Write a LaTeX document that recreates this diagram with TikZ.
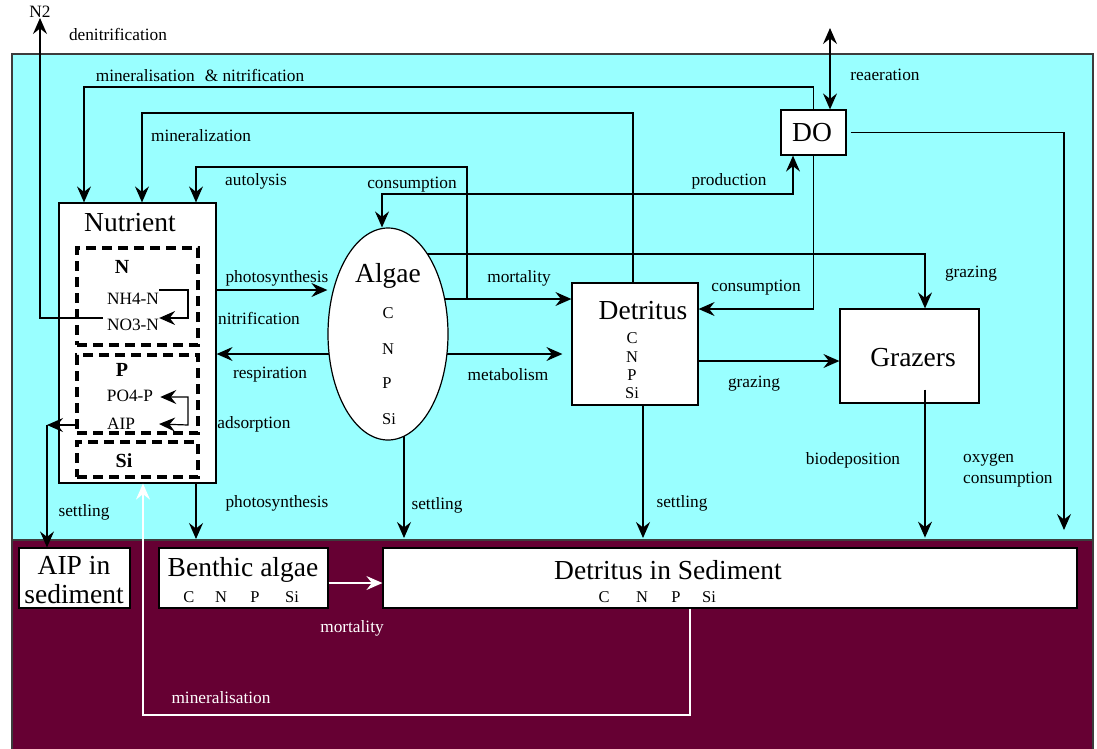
\documentclass[tikz,border=0pt]{standalone}
\usepackage{fontspec}
\setmainfont{Liberation Serif}
\usetikzlibrary{arrows.meta,shapes.geometric,calc}
\pgfdeclarelayer{back}
\pgfdeclarelayer{mid}
\pgfsetlayers{back,mid,main}
\definecolor{water}{RGB}{153,255,255}
\definecolor{sed}{RGB}{102,0,51}
\definecolor{rim}{RGB}{60,60,60}
\begin{document}
\begin{tikzpicture}[x=1pt,y=-1pt,
  conn/.style={line width=1.2pt,-{Stealth[length=16pt,width=14pt,inset=5.5pt]}},
  dconn/.style={line width=1.2pt,{Stealth[length=16pt,width=14pt,inset=5.5pt]}-{Stealth[length=16pt,width=14pt,inset=5.5pt]}},
  wconn/.style={line width=1.2pt,draw=white,-{Stealth[length=16pt,width=14pt,inset=5.5pt]}},
  box/.style={draw=black,fill=white,line width=1.2pt,inner sep=0pt,rectangle},
  dbox/.style={draw=black,line width=3.5pt,dash pattern=on 10pt off 6pt,inner sep=0pt,rectangle},
  lbl/.style={font=\fontsize{17.3}{21}\selectfont,inner sep=0pt},
  wlbl/.style={lbl,text=white},
  big/.style={font=\fontsize{27.5}{29}\selectfont,inner sep=0pt},
  elem/.style={font=\fontsize{16.5}{19}\selectfont,inner sep=0pt},
  bold/.style={font=\fontsize{20}{24}\selectfont\bfseries,inner sep=0pt},
]
\useasboundingbox (0,0) rectangle (1097,748);
\begin{pgfonlayer}{back}
 \filldraw[fill=water,draw=rim,line width=1.2pt] (12,54) rectangle (1093,540);
 \filldraw[fill=sed,draw=rim,line width=1.2pt] (12,540) rectangle (1093,752);
\end{pgfonlayer}

% ---------- boxes ----------
\node[box,minimum width=157pt,minimum height=280pt] (nut) at (137.5,343) {};
\node[dbox,minimum width=121pt,minimum height=97pt] (dN) at (137.5,296.5) {};
\node[dbox,minimum width=121pt,minimum height=78pt] (dP) at (137.5,394) {};
\node[dbox,minimum width=121pt,minimum height=35pt] (dSi) at (137.5,459.5) {};
\node[box,ellipse,minimum width=120pt,minimum height=212pt] (algae) at (388,334) {};
\node[box,minimum width=126pt,minimum height=122pt] (detr) at (635,344) {};
\node[box,minimum width=139pt,minimum height=94pt] (graz) at (909.5,356) {};
\node[box,minimum width=65pt,minimum height=45pt] (dox) at (813.5,132.5) {};
\node[box,minimum width=111pt,minimum height=60pt] (aipsed) at (74.5,578) {};
\node[box,minimum width=169pt,minimum height=60pt] (benth) at (243.5,578) {};
\node[box,minimum width=694pt,minimum height=60pt] (detsed) at (730,578) {};

% ---------- texts in boxes ----------
\node[big] (tNut) at (130,223) {Nutrient};
\node[bold] (tN) at (122,267) {N};
\node[lbl] (tNH4) at (133,299) {NH4-N};
\node[lbl] (tNO3) at (133,325) {NO3-N};
\node[bold] (tP) at (122,370) {P};
\node[lbl] (tPO4) at (130,396) {PO4-P};
\node[lbl] (tAIP) at (121,424) {AIP};
\node[bold] (tSi) at (124,461) {Si};
\node[big] (tAlg) at (388,276) {Algae};
\node[elem] (aC) at (388,313) {C};
\node[elem] (aN) at (388,349) {N};
\node[elem] (aP) at (387,383) {P};
\node[elem] (aSi) at (389,419) {Si};
\node[big] (tDet) at (643,311) {Detritus};
\node[elem] (dC) at (632,338) {C};
\node[elem] (dNn) at (632,357) {N};
\node[elem] (dPp) at (632,375) {P};
\node[elem] (dSii) at (632,393) {Si};
\node[big] (tGraz) at (913,358) {Grazers};
\node[big] (tDO) at (812,133) {DO};
\node[big,align=center] (tAIPs) at (74,580) {AIP in\\sediment};
\node[big] (tBen) at (243,570) {Benthic\hspace{7pt}algae};
\node[elem] (bC) at (189,597) {C};
\node[elem] (bN) at (221,597) {N};
\node[elem] (bP) at (255,597) {P};
\node[elem] (bSi) at (292,597) {Si};
\node[big] (tDS) at (668,570) {Detritus in Sediment};
\node[elem] (sC) at (604,597) {C};
\node[elem] (sN) at (642,597) {N};
\node[elem] (sP) at (676,597) {P};
\node[elem] (sSi) at (709,597) {Si};

% ---------- connectors hidden under nodes ----------
\coordinate (mj) at (467,299);
\coordinate (metEnd) at ($(detr.west)+(-9,10)$);
\begin{pgfonlayer}{mid}
 \draw[conn] (algae.center |- mj) -- (detr.west |- mj);
 \draw[conn] (algae.center |- 0,354) -- (nut.east |- 0,354);
 \draw[conn] (algae.center |- 0,354) -- (metEnd);
 \draw[conn] (algae.center |- 0,254) -| ([xshift=15.5pt]graz.north);
 \draw[conn] (algae.center -| 404,0) -- (404,538);
 \draw[conn] (detr.center -| 643,0) -- (643,538);
\end{pgfonlayer}

% ---------- other connectors ----------
\draw[conn] (dox.north) |- (84,87) -- (84,87 |- nut.north);
\draw[conn] ([xshift=-2pt]detr.north) |- (142,113) -- (142,113 |- nut.north);
\draw[conn] (mj) |- (196,167) -- (196,167 |- nut.north);
\draw[dconn] ([xshift=-6pt]algae.north) |- (793,194) -- (793,194 |- dox.south);
\draw[conn] (dox.south) |- (detr.east |- 0,309);
\draw[conn] (detr.east |- 0,361) -- (graz.west |- 0,361);
\coordinate (oxEnd) at (1064,530);
\draw[conn] ([xshift=4pt]dox.east) -| (oxEnd);
\coordinate (air) at (830,28);
\draw[dconn] (air) -- (air |- dox.north);
\draw[conn] (nut.east |- 0,290) -- (algae.west |- 0,290);
\draw[conn] (tNH4.east |- 0,290) -| (188,318) -- (tNO3.east |- 0,318);
\draw[dconn] ($(tPO4.east)+(7,1)$) -| (188,425) -- (tAIP.east -| 159,0);
\coordinate (n2) at (40,18);
\draw[conn] ($(tNO3.west)+(-4,-7)$) -| (n2);
\coordinate (aipc) at (47,425);
\draw[conn] (dP.west |- aipc) -- (aipc);
\draw[conn] (aipc) -- (aipc |- aipsed.north);
\coordinate (phEnd) at (196,539);
\draw[conn] (nut.south -| phEnd) -- (phEnd);
\draw[conn] ($(graz.south)+(15.5,-14)$) -- ($(graz.south)+(15.5,134)$);
\draw[wconn] (benth.east |- 0,583) -- (detsed.west |- 0,583);
\draw[wconn] (detsed.south -| 690,0) |- (143,715) -- (143,715 |- nut.south);

% ---------- labels ----------
\node[lbl] (lN2) at (40,12) {N2};
\node[lbl] (lDen) at (118,34) {denitrification};
\node[lbl] (lMN) at (200,75) {mineralisation\hspace{10pt}\& nitrification};
\node[lbl] (lMin) at (201,136) {mineralization};
\node[lbl] (lAut) at (256,181) {autolysis};
\node[lbl] (lCon1) at (412,185) {consumption};
\node[lbl] (lProd) at (729,181) {production};
\node[lbl] (lRea) at (885,75) {reaeration};
\node[lbl] (lPh1) at (277,278) {photosynthesis};
\node[lbl] (lNit) at (259,318) {nitrification};
\node[lbl] (lRes) at (270,375) {respiration};
\node[lbl] (lAds) at (254,424) {adsorption};
\node[lbl] (lMort) at (519,278) {mortality};
\node[lbl] (lMet) at (508,375) {metabolism};
\node[lbl] (lCon2) at (756,288) {consumption};
\node[lbl] (lGr1) at (971,274) {grazing};
\node[lbl] (lGr2) at (754,384) {grazing};
\node[lbl] (lBio) at (853,460) {biodeposition};
\node[lbl,align=left,anchor=west] (lOx) at (963,470) {oxygen\\consumption};
\node[lbl] (lSet1) at (84,512) {settling};
\node[lbl] (lPh2) at (277,503) {photosynthesis};
\node[lbl] (lSet2) at (437,505) {settling};
\node[lbl] (lSet3) at (682,503) {settling};
\node[wlbl] (lMort2) at (352,628) {mortality};
\node[wlbl] (lMin2) at (221,698) {mineralisation};
\end{tikzpicture}
\end{document}
